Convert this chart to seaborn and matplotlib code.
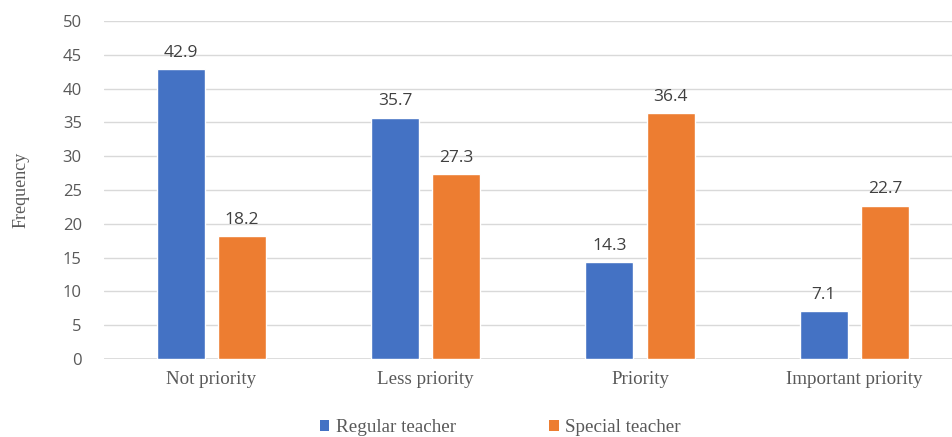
import matplotlib
matplotlib.use("Agg")
import matplotlib.pyplot as plt
import seaborn as sns
import pandas as pd
from matplotlib.patches import Patch

categories = ["Not priority", "Less priority", "Priority", "Important priority"]
series_names = ["Regular teacher", "Special teacher"]
regular = [42.9, 35.7, 14.3, 7.1]
special = [18.2, 27.3, 36.4, 22.7]
colors = ["#4472C4", "#ED7D31"]

df = pd.DataFrame({
    "category": categories * 2,
    "series": [series_names[0]] * 4 + [series_names[1]] * 4,
    "value": regular + special,
})

sns.set_theme(style="white")
plt.rcParams['font.family'] = ['DejaVu Sans']

fig = plt.figure(figsize=(9.53, 4.37), dpi=100)
ax = fig.add_axes([104/953, 78/437, (953-104)/953, 338/437])

sns.barplot(data=df, x="category", y="value", hue="series", order=categories,
            hue_order=series_names, palette=colors, width=0.57, gap=0.214,
            saturation=1, ax=ax, legend=False, errorbar=None)

ax.set_ylim(0, 50)
ax.set_xlim(-0.5, 3.46)
ax.set_yticks(range(0, 51, 5))
ax.yaxis.grid(True, color="#D9D9D9", linewidth=1)
ax.set_axisbelow(True)
for s in ax.spines.values():
    s.set_visible(False)
ax.axhline(0, color="#D9D9D9", linewidth=1.2, zorder=0.5)

ax.tick_params(axis="both", length=0)
ax.tick_params(axis="y", pad=16, labelsize=12, labelcolor="#595959")
ax.tick_params(axis="x", pad=9, labelcolor="#595959")
for lab in ax.get_yticklabels():
    lab.set_fontfamily("Open Sans")
for lab in ax.get_xticklabels():
    lab.set_fontfamily("Liberation Serif")
    lab.set_fontsize(13.7)

ax.set_xlabel("")
ax.set_ylabel("Frequency", fontfamily="Liberation Serif", fontsize=13, color="#595959", labelpad=24)

for cont in ax.containers:
    ax.bar_label(cont, labels=[f"{v:.1f}" for v in cont.datavalues], padding=6,
                 fontsize=12.5, color="#404040", fontfamily="Open Sans")

handles = [Patch(facecolor=c, edgecolor="none") for c in colors]
fig.legend(handles, series_names, loc="center", bbox_to_anchor=(0.525, 0.022), ncol=2,
           frameon=False, handlelength=0.5, handleheight=0.5, handletextpad=0.35,
           columnspacing=4.9, prop={"family": "Liberation Serif", "size": 13.7},
           labelcolor="#595959")

fig.savefig("out.png", dpi=100)
